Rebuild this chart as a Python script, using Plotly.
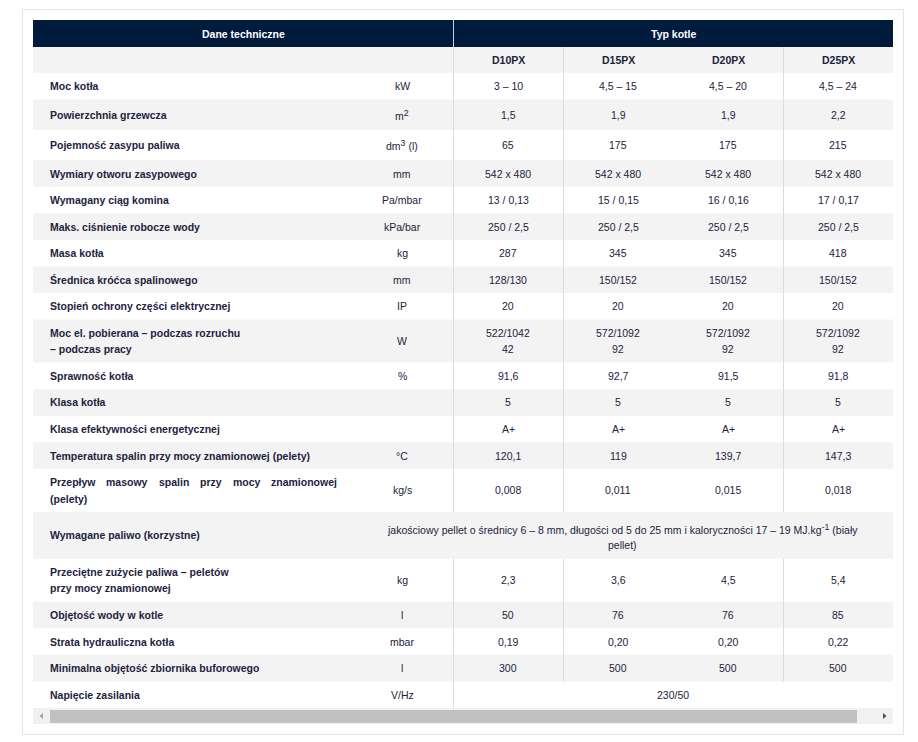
import plotly.graph_objects as go

# ---------------- data ----------------
header_left = "Dane techniczne"
header_right = "Typ kotle"
models = ["D10PX", "D15PX", "D20PX", "D25PX"]

labels = [
    "Moc kotła",
    "Powierzchnia grzewcza",
    "Pojemność zasypu paliwa",
    "Wymiary otworu zasypowego",
    "Wymagany ciąg komina",
    "Maks. ciśnienie robocze wody",
    "Masa kotła",
    "Średnica króćca spalinowego",
    "Stopień ochrony części elektrycznej",
    "Moc el. pobierana – podczas rozruchu<br>– podczas pracy",
    "Sprawność kotła",
    "Klasa kotła",
    "Klasa efektywności energetycznej",
    "Temperatura spalin przy mocy znamionowej (pelety)",
    "Przepływ masowy spalin przy mocy znamionowej<br>(pelety)",
    "Wymagane paliwo (korzystne)",
    "Przeciętne zużycie paliwa – peletów<br>przy mocy znamionowej",
    "Objętość wody w kotle",
    "Strata hydrauliczna kotła",
    "Minimalna objętość zbiornika buforowego",
    "Napięcie zasilania",
]
units = ["kW", "m<sup>2</sup>", "dm<sup>3</sup> (l)", "mm", "Pa/mbar", "kPa/bar", "kg", "mm", "IP",
         "W", "%", "", "", "°C", "kg/s", "", "kg", "l", "mbar", "l", "V/Hz"]
d10px = ["3 – 10", "1,5", "65", "542 x 480", "13 / 0,13", "250 / 2,5", "287", "128/130", "20",
         "522/1042<br>42", "91,6", "5", "A+", "120,1", "0,008", None, "2,3", "50", "0,19", "300", None]
d15px = ["4,5 – 15", "1,9", "175", "542 x 480", "15 / 0,15", "250 / 2,5", "345", "150/152", "20",
         "572/1092<br>92", "92,7", "5", "A+", "119", "0,011", None, "3,6", "76", "0,20", "500", None]
d20px = ["4,5 – 20", "1,9", "175", "542 x 480", "16 / 0,16", "250 / 2,5", "345", "150/152", "20",
         "572/1092<br>92", "91,5", "5", "A+", "139,7", "0,015", None, "4,5", "76", "0,20", "500", None]
d25px = ["4,5 – 24", "2,2", "215", "542 x 480", "17 / 0,17", "250 / 2,5", "418", "150/152", "20",
         "572/1092<br>92", "91,8", "5", "A+", "147,3", "0,018", None, "5,4", "85", "0,22", "500", None]
fuel_text = ("jakościowy pellet o średnicy 6 – 8 mm, długości od 5 do 25 mm i kaloryczności "
             "17 – 19 MJ.kg<sup>-1</sup> (biały<br>pellet)")
supply_value = "230/50"

# ---------------- style / layout ----------------
W, H = 918, 742
PAGE_MARGIN = 8              # browser body margin around the figure
FONT = "Liberation Sans, Arial, sans-serif"
FS = 10.5
SUP_FS = 8.8
TXT = "#1e2240"
NAVY = "#001b3c"
GRAY = "#f3f3f3"
LINE = "#dcdcdc"

X_TABLE_L, X_TABLE_R = 33, 893
X_UNIT_L = 351
X_VAL_L = 453
COL_W = 110
X_LABEL = 50
Y_HEAD_T, Y_HEAD_B = 20, 47
Y_SUB_B = 73
BASE_H, LINE_STEP, SUP_EXTRA = 26.55, 16.5, 3.8
JUSTIFY_ROWS = {14}          # label first line justified to this right edge
JUSTIFY_RIGHT = 337
SKIP_SEP = {2}               # no separator drawn before 3rd value column

# Arial Bold advance widths (per 1000 em) for justification
BOLD_W = {'P': 667, 'r': 389, 'z': 500, 'e': 556, 'p': 611, 'ł': 278, 'y': 556, 'w': 778,
          'm': 889, 'a': 556, 's': 556, 'o': 611, 'l': 278, 'i': 278, 'n': 611, 'c': 556,
          'j': 278, 't': 333}


def text_w(s):
    return sum(BOLD_W.get(ch, 556) for ch in s) * FS / 1000.0


def sup_style(s):
    return (s.replace("<sup>", f"<sup><span style='font-size:{SUP_FS}px'>")
             .replace("</sup>", "</span></sup>"))


fig = go.Figure()
fig.update_layout(
    width=W - PAGE_MARGIN, height=H - PAGE_MARGIN, margin=dict(l=0, r=0, t=0, b=0),
    paper_bgcolor="white", plot_bgcolor="white", showlegend=False,
    xaxis=dict(range=[PAGE_MARGIN, W], visible=False, fixedrange=True),
    yaxis=dict(range=[H, PAGE_MARGIN], visible=False, fixedrange=True),
)

shapes = []
annots = []


def rect(x0, y0, x1, y1, fill, line=None, lw=0):
    shapes.append(dict(type="rect", xref="x", yref="y", x0=x0, y0=y0, x1=x1, y1=y1,
                       fillcolor=fill, line=dict(color=line or fill, width=lw), layer="below"))


def vline(x, y0, y1, color=LINE):
    shapes.append(dict(type="line", xref="x", yref="y", x0=x, x1=x, y0=y0, y1=y1,
                       line=dict(color=color, width=1), layer="above"))


def text(x, y, s, anchor="center", bold=False, color=TXT):
    s = sup_style(s)
    annots.append(dict(x=x, y=y, xref="x", yref="y", text=f"<b>{s}</b>" if bold else s,
                       showarrow=False, xanchor=anchor, yanchor="middle", borderpad=0,
                       borderwidth=0, font=dict(family=FONT, size=FS, color=color)))


def multiline(x, yc, s, anchor="center", bold=False):
    parts = s.split("<br>")
    n = len(parts)
    for i, p in enumerate(parts):
        text(x, yc + (i - (n - 1) / 2) * LINE_STEP, p, anchor, bold)
    return parts


# outer frame
shapes.append(dict(type="rect", xref="x", yref="y", x0=22.5, y0=9.5, x1=903.5, y1=734.5,
                   fillcolor="rgba(0,0,0,0)", line=dict(color="#e3e3e3", width=1)))

# header rows
rect(X_TABLE_L, Y_HEAD_T, X_TABLE_R, Y_HEAD_B, NAVY)
rect(X_TABLE_L, Y_HEAD_B, X_TABLE_R, Y_SUB_B, GRAY)
text((X_TABLE_L + X_VAL_L) / 2, (Y_HEAD_T + Y_HEAD_B) / 2, header_left, bold=True, color="white")
text((X_VAL_L + X_TABLE_R) / 2, (Y_HEAD_T + Y_HEAD_B) / 2, header_right, bold=True, color="white")
col_centers = [X_VAL_L + COL_W * (i + 0.5) for i in range(len(models))]
col_centers[-1] = (X_VAL_L + 3 * COL_W + X_TABLE_R) / 2
for xc, m in zip(col_centers, models):
    text(xc, (Y_HEAD_B + Y_SUB_B) / 2, m, bold=True)

vline(X_VAL_L + 0.5, Y_HEAD_T, Y_HEAD_B, "#c8ccd4")
vline(X_VAL_L + 0.5, Y_HEAD_B, Y_SUB_B)
for k in range(1, len(models)):
    if k not in SKIP_SEP:
        vline(X_VAL_L + COL_W * k + 0.5, Y_HEAD_B, Y_SUB_B)

# body rows
series = [d10px, d15px, d20px, d25px]
y = Y_SUB_B
for r, lab in enumerate(labels):
    nlines = max(len(lab.split("<br>")),
                 max(len(s[r].split("<br>")) if s[r] else 1 for s in series),
                 2 if r == 15 else 1)
    has_sup = "<sup>" in units[r] or (r == 15)
    h = BASE_H + (nlines - 1) * LINE_STEP + (SUP_EXTRA if has_sup else 0)
    y0, y1 = y, y + h
    yc = (y0 + y1) / 2
    if r % 2 == 1:
        rect(X_TABLE_L, y0, X_TABLE_R, y1, GRAY)

    # label
    if r in JUSTIFY_ROWS:
        first, rest = lab.split("<br>")
        words = first.split(" ")
        widths = [text_w(wd) for wd in words]
        gap = (JUSTIFY_RIGHT - X_LABEL - sum(widths)) / (len(words) - 1)
        xx = X_LABEL
        for wd, ww in zip(words, widths):
            text(xx, yc - LINE_STEP / 2, wd, anchor="left", bold=True)
            xx += ww + gap
        text(X_LABEL, yc + LINE_STEP / 2, rest, anchor="left", bold=True)
    else:
        multiline(X_LABEL, yc, lab, anchor="left", bold=True)

    if r == 15:
        # merged cell over unit + value columns
        multiline((X_UNIT_L + X_TABLE_R) / 2, yc + 1.5, fuel_text)
    elif series[0][r] is None:
        text((X_UNIT_L + X_VAL_L) / 2, yc, units[r])
        text((X_VAL_L + X_TABLE_R) / 2, yc, supply_value)
        vline(X_VAL_L + 0.5, y0, y1)
    else:
        if units[r]:
            text((X_UNIT_L + X_VAL_L) / 2, yc, units[r])
        for xc, s in zip(col_centers, series):
            multiline(xc, yc, s[r])
        vline(X_VAL_L + 0.5, y0, y1)
        for k in range(1, len(models)):
            if k not in SKIP_SEP:
                vline(X_VAL_L + COL_W * k + 0.5, y0, y1)
    y = y1

# horizontal scrollbar
rect(X_TABLE_L, y, X_TABLE_R, y + 16, "#f1f1f1")
rect(50, y + 2, 857, y + 15, "#c1c1c1")
shapes.append(dict(type="path", xref="x", yref="y",
                   path=f"M 43 {y+5} L 39.5 {y+8} L 43 {y+11} Z",
                   fillcolor="#a3a3a3", line=dict(width=0)))
shapes.append(dict(type="path", xref="x", yref="y",
                   path=f"M 883 {y+5} L 886.5 {y+8} L 883 {y+11} Z",
                   fillcolor="#505050", line=dict(width=0)))

fig.update_layout(shapes=shapes, annotations=annots)
fig.write_html("out.html")
